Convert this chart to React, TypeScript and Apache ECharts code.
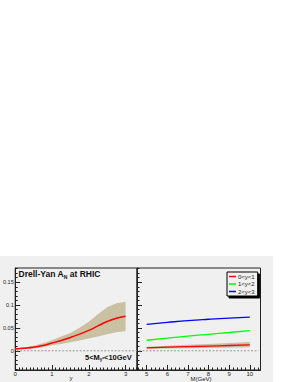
import React, { useEffect, useRef } from "react";
import * as echarts from "echarts";

// Left panel: A_N vs rapidity y (5 < M < 10 GeV)
const rapidity = [0, 0.25, 0.5, 0.75, 1.0, 1.25, 1.5, 1.75, 2.0, 2.25, 2.5, 2.75, 3.0];
const anCentral = [0.004, 0.0055, 0.0075, 0.0115, 0.017, 0.0225, 0.029, 0.0365, 0.0445, 0.0545, 0.064, 0.071, 0.0755];
const anUpper = [0.005, 0.0075, 0.011, 0.0165, 0.023, 0.031, 0.039, 0.0505, 0.0635, 0.08, 0.095, 0.104, 0.107];
const anLower = [0.003, 0.004, 0.005, 0.008, 0.012, 0.015, 0.0185, 0.0225, 0.027, 0.031, 0.036, 0.0405, 0.043];

// Right panel: A_N vs M (GeV) for rapidity bins
const massValues = [5, 6, 7, 8, 9, 10];
const anBin01 = [0.0065, 0.0078, 0.009, 0.0103, 0.0116, 0.013];
const anBin01Upper = [0.009, 0.011, 0.013, 0.015, 0.017, 0.019];
const anBin01Lower = [0.0045, 0.0051, 0.0057, 0.0063, 0.0069, 0.0075];
const anBin12 = [0.023, 0.0275, 0.032, 0.036, 0.04, 0.044];
const anBin23 = [0.0577, 0.062, 0.066, 0.069, 0.0715, 0.0734];

const binNames = ["0<y<1", "1<y<2", "2<y<3"];
const yTickLabels = [0, 0.05, 0.1, 0.15];
const leftXTicks = [0, 1, 2, 3];
const rightXTicks = [5, 6, 7, 8, 9, 10];

const Y_MIN = -0.042;
const Y_MAX = 0.181;
const LX_MIN = 0;
const LX_MAX = 3.31;
const RX_MIN = 4.53;
const RX_MAX = 10.52;

function range(a: number, b: number, step: number): number[] {
  const out: number[] = [];
  const n = Math.round((b - a) / step);
  for (let i = 0; i <= n; i++) out.push(+(a + i * step).toFixed(4));
  return out;
}

const yMinor = range(-0.04, 0.18, 0.01);
const lxMinor = range(0, 3.3, 0.1);
const rxMinor = range(4.6, 10.4, 0.2);

const pairs = (xs: number[], ys: number[]) => xs.map((x, i) => [x, ys[i]]);

const FONT = "Liberation Sans, Arial, sans-serif";
const FRAME = "#222";
const BAND = "#c9c1a2";

function bandSeries(xIdx: number, yIdx: number, xs: number[], hi: number[], lo: number[]) {
  return {
    type: "custom",
    xAxisIndex: xIdx,
    yAxisIndex: yIdx,
    silent: true,
    clip: true,
    z: 1,
    data: xs.map((x, i) => [x, lo[i], hi[i]]),
    encode: { x: 0, y: [1, 2] },
    renderItem: (params: any, api: any) => {
      if (params.dataIndex !== 0) return null;
      const top = xs.map((x, i) => api.coord([x, hi[i]]));
      const bottom = xs.map((x, i) => api.coord([x, lo[i]])).reverse();
      return {
        type: "polygon",
        shape: { points: top.concat(bottom) },
        style: { fill: BAND, stroke: "none" },
      };
    },
  };
}

export default function App() {
  const ref = useRef<HTMLDivElement>(null);
  useEffect(() => {
    if (!ref.current) return;
    const chart = echarts.init(ref.current, undefined, { renderer: "svg" });

    const majorX = (grid: number, min: number, max: number, ticks: number[]) => ({
      type: "value",
      gridIndex: grid,
      min,
      max,
      position: "bottom",
      axisLine: { show: true, onZero: false, lineStyle: { color: FRAME, width: 1 } },
      axisTick: { show: true, inside: true, length: 5, customValues: ticks, lineStyle: { color: FRAME } },
      axisLabel: {
        show: true,
        customValues: ticks,
        fontSize: 6,
        color: "#222",
        fontFamily: FONT,
        margin: 1,
      },
      splitLine: { show: false },
    });
    const minorX = (grid: number, min: number, max: number, ticks: number[]) => ({
      type: "value",
      gridIndex: grid,
      min,
      max,
      position: "bottom",
      axisLine: { show: false, onZero: false },
      axisTick: { show: true, inside: true, length: 2.5, customValues: ticks, lineStyle: { color: FRAME } },
      axisLabel: { show: false },
      splitLine: { show: false },
    });
    const majorY = (grid: number, labels: boolean) => ({
      type: "value",
      gridIndex: grid,
      min: Y_MIN,
      max: Y_MAX,
      position: "left",
      axisLine: { show: true, onZero: false, lineStyle: { color: FRAME, width: 1 } },
      axisTick: { show: true, inside: true, length: 5, customValues: yTickLabels, lineStyle: { color: FRAME } },
      axisLabel: {
        show: labels,
        customValues: yTickLabels,
        fontSize: 5.5,
        color: "#222",
        fontFamily: FONT,
        margin: 1.5,
      },
      splitLine: { show: false },
    });
    const minorY = (grid: number) => ({
      type: "value",
      gridIndex: grid,
      min: Y_MIN,
      max: Y_MAX,
      position: "left",
      offset: 0,
      axisLine: { show: false, onZero: false },
      axisTick: { show: true, inside: true, length: 2.5, customValues: yMinor, lineStyle: { color: FRAME } },
      axisLabel: { show: false },
      splitLine: { show: false },
    });

    const option: any = {
      animation: false,
      backgroundColor: "transparent",
      textStyle: { fontFamily: FONT },
      graphic: [
        {
          type: "rect",
          z: -10,
          silent: true,
          shape: { x: 0, y: 256, width: 273, height: 126 },
          style: { fill: "#f0f0f0" },
        },
        {
          type: "text",
          x: 18.5,
          y: 268,
          z: 10,
          style: {
            text: "{a|Drell-Yan A}{s|N}{a| at RHIC}",
            rich: {
              a: { fontSize: 8.5, fontWeight: "bold", fill: "#111", fontFamily: FONT, lineHeight: 11, verticalAlign: "middle" },
              s: { fontSize: 5, fontWeight: "bold", fill: "#111", fontFamily: FONT, lineHeight: 6, verticalAlign: "bottom" },
            },
          },
        },
        {
          type: "text",
          x: 85,
          y: 352,
          z: 10,
          style: {
            text: "{a|5<M}{s|γ*}{a|<10GeV}",
            rich: {
              a: { fontSize: 7.5, fontWeight: "bold", fill: "#111", fontFamily: FONT, lineHeight: 10, verticalAlign: "middle" },
              s: { fontSize: 4.5, fontWeight: "bold", fill: "#111", fontFamily: FONT, lineHeight: 5, verticalAlign: "bottom" },
            },
          },
        },
        {
          type: "text",
          x: 71,
          y: 375,
          z: 10,
          style: { text: "y", fontSize: 6, fill: "#222", fontFamily: FONT, align: "center" },
        },
        {
          type: "text",
          x: 201,
          y: 376,
          z: 10,
          style: { text: "M(GeV)", fontSize: 6, fill: "#222", fontFamily: FONT, align: "center" },
        },
      ],
      grid: [
        { left: 13.5, top: 268, width: 123.5, height: 102, show: true, borderColor: FRAME, borderWidth: 1, backgroundColor: "transparent" },
        { left: 137, top: 268, width: 123.5, height: 102, show: true, borderColor: FRAME, borderWidth: 1, backgroundColor: "transparent" },
      ],
      xAxis: [
        majorX(0, LX_MIN, LX_MAX, leftXTicks),
        minorX(0, LX_MIN, LX_MAX, lxMinor),
        majorX(1, RX_MIN, RX_MAX, rightXTicks),
        minorX(1, RX_MIN, RX_MAX, rxMinor),
      ],
      yAxis: [majorY(0, true), minorY(0), majorY(1, false), minorY(1)],
      legend: {
        data: binNames,
        orient: "vertical",
        left: 227,
        top: 272,
        icon: "rect",
        itemWidth: 7,
        itemHeight: 1.5,
        itemGap: 1.5,
        padding: [1.5, 3, 1.5, 2],
        backgroundColor: "#f0f0f0",
        borderColor: "#000",
        borderWidth: 1,
        shadowColor: "#000",
        shadowOffsetX: 2,
        shadowOffsetY: 2,
        shadowBlur: 0,
        textStyle: { fontSize: 6, color: "#222", fontFamily: FONT, padding: [0, 0, 0, -3] },
      },
      series: [
        bandSeries(0, 0, rapidity, anUpper, anLower),
        {
          name: "zeroL",
          type: "line",
          xAxisIndex: 0,
          yAxisIndex: 0,
          data: [[LX_MIN + 0.04, 0], [LX_MAX, 0]],
          symbol: "none",
          lineStyle: { color: "#999", width: 1, type: [2, 1.5] },
          silent: true,
        },
        {
          name: "centralL",
          type: "line",
          xAxisIndex: 0,
          yAxisIndex: 0,
          data: pairs(rapidity, anCentral),
          smooth: 0.4,
          symbol: "none",
          color: "#ff0000",
          lineStyle: { color: "#ff0000", width: 1.5 },
        },
        // right panel
        {
          name: "zeroR",
          type: "line",
          xAxisIndex: 2,
          yAxisIndex: 2,
          data: [[RX_MIN + 0.1, 0], [RX_MAX - 0.1, 0]],
          symbol: "none",
          lineStyle: { color: "#999", width: 1, type: [2, 1.5] },
          silent: true,
        },
        bandSeries(2, 2, massValues, anBin01Upper, anBin01Lower),
        {
          name: binNames[0],
          type: "line",
          xAxisIndex: 2,
          yAxisIndex: 2,
          data: pairs(massValues, anBin01),
          smooth: true,
          symbol: "none",
          color: "#ff0000",
          lineStyle: { color: "#ff0000", width: 1.3 },
        },
        {
          name: binNames[1],
          type: "line",
          xAxisIndex: 2,
          yAxisIndex: 2,
          data: pairs(massValues, anBin12),
          smooth: true,
          symbol: "none",
          color: "#00ff00",
          lineStyle: { color: "#00ff00", width: 1.3 },
        },
        {
          name: binNames[2],
          type: "line",
          xAxisIndex: 2,
          yAxisIndex: 2,
          data: pairs(massValues, anBin23),
          smooth: true,
          symbol: "none",
          color: "#0000ff",
          lineStyle: { color: "#0000ff", width: 1.3 },
        },
      ],
    };
    chart.setOption(option);
    return () => chart.dispose();
  }, []);

  return (
    <div
      ref={ref}
      style={{ position: "absolute", left: 0, top: 0, width: 295, height: 382, background: "#ffffff" }}
    />
  );
}
